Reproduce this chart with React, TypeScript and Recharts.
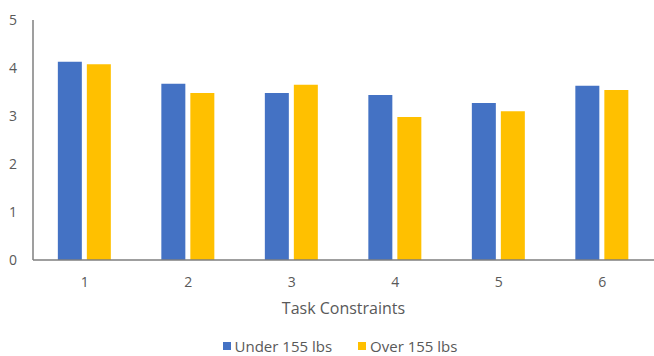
import React from "react";
import { BarChart, Bar, XAxis, YAxis, Legend } from "recharts";

const constraints = ["1", "2", "3", "4", "5", "6"];
const under155 = [4.13, 3.67, 3.48, 3.44, 3.27, 3.63];
const over155 = [4.08, 3.48, 3.65, 2.98, 3.1, 3.54];
const yTicks = [0, 1, 2, 3, 4, 5];

const series = [
  { key: "under", name: "Under 155 lbs", color: "#4472C4" },
  { key: "over", name: "Over 155 lbs", color: "#FFC000" },
];

const data = constraints.map((c, i) => ({
  task: c,
  under: under155[i],
  over: over155[i],
}));

const axisColor = "#7f7f7f";
const textColor = "#595959";
const font = "'Open Sans', 'Noto Sans', sans-serif";

function LegendContent() {
  return (
    <div
      style={{
        display: "flex",
        justifyContent: "center",
        gap: 26,
        fontSize: 15,
        lineHeight: "16px",
        color: textColor,
      }}
    >
      {series.map((s) => (
        <span key={s.key} style={{ display: "flex", alignItems: "center", gap: 4 }}>
          <span style={{ width: 8, height: 8, background: s.color, display: "inline-block" }} />
          {s.name}
        </span>
      ))}
    </div>
  );
}

export default function App() {
  return (
    <div style={{ position: "absolute", left: 0, top: 0, fontFamily: font }}>
      <BarChart
        width={654}
        height={356}
        data={data}
        margin={{ top: 20, right: 0, bottom: 24, left: 0 }}
        barCategoryGap="24%"
        barGap={5}
      >
        <XAxis
          dataKey="task"
          height={56}
          tickLine={false}
          tickMargin={11}
          stroke={axisColor}
          strokeWidth={1.5}
          tick={{ fill: textColor, fontSize: 14 }}
          label={{
            value: "Task Constraints",
            position: "insideBottom",
            offset: 2,
            fill: textColor,
            fontSize: 16,
          }}
        />
        <YAxis
          width={33}
          domain={[0, 5]}
          ticks={yTicks}
          tickLine={false}
          tickMargin={10}
          stroke={axisColor}
          strokeWidth={1.5}
          tick={{ fill: textColor, fontSize: 14 }}
        />
        <Legend
          content={<LegendContent />}
          wrapperStyle={{ top: 338, width: 654, left: 13 }}
        />
        {series.map((s) => (
          <Bar key={s.key} dataKey={s.key} name={s.name} fill={s.color} isAnimationActive={false} />
        ))}
      </BarChart>
    </div>
  );
}
